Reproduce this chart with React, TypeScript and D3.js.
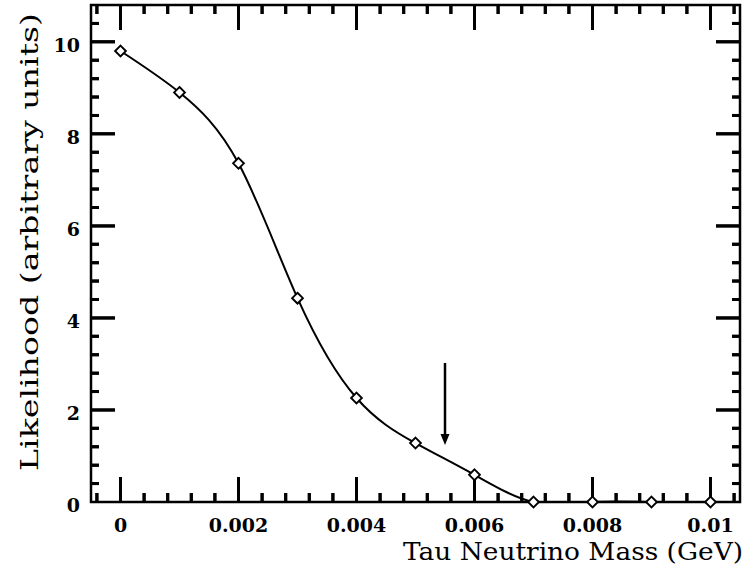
import React, { useEffect, useRef } from 'react';
import * as d3 from 'd3';

// Data
const massValues = [0, 0.001, 0.002, 0.003, 0.004, 0.005, 0.006, 0.007, 0.008, 0.009, 0.01];
const likelihoodValues = [9.8, 8.9, 7.36, 4.43, 2.26, 1.28, 0.59, 0, 0, 0, 0];
const xTickValues = [0, 0.002, 0.004, 0.006, 0.008, 0.01];
const xTickLabels = ['0', '0.002', '0.004', '0.006', '0.008', '0.01'];
const yTickValues = [0, 2, 4, 6, 8, 10];
const yTickLabels = ['0', '2', '4', '6', '8', '10'];
const arrowMass = 0.0055;
const arrowFrom = 3.02;
const arrowTo = 1.24;
const xTitle = 'Tau Neutrino Mass (GeV)';
const yTitle = 'Likelihood (arbitrary units)';

const W = 751;
const H = 574;
const L = 91, R = 740, T = 5, B = 502;

export default function App() {
  const tickRef = useRef(null);
  const x = d3.scaleLinear().domain([-0.0005, 0.0105]).range([L, R]);
  const y = d3.scaleLinear().domain([0, 10.8]).range([B, T]);

  const xMinor = d3.range(-1, 27).map((i) => i * 0.0004);
  const yMinor = d3.range(1, 27).map((i) => i * 0.4);

  useEffect(() => {
    const g = d3.select(tickRef.current);
    g.selectAll('*').remove();
    const bottom = d3.axisBottom(x).tickValues(xMinor).tickFormat(() => '');
    bottom.tickSizeInner(0).tickSizeOuter(0);
    const mk = (sel, vals, isX, side) => {
      sel
        .selectAll('line.t' + side)
        .data(vals)
        .enter()
        .append('line')
        .attr('stroke', 'black')
        .attr('stroke-width', 3)
        .attr('x1', (d, i) => (isX ? x(d) : side === 'l' ? L : R))
        .attr('x2', (d, i) => {
          const maj = Math.round(d / (isX ? 0.0004 : 0.4)) % 5 === 0;
          const len = maj ? (isX ? 25 : 24) : isX ? 9 : 8;
          return isX ? x(d) : side === 'l' ? L + len : R - len;
        })
        .attr('y1', (d) => (isX ? (side === 'b' ? B : T) : y(d)))
        .attr('y2', (d) => {
          const maj = Math.round(d / (isX ? 0.0004 : 0.4)) % 5 === 0;
          const len = maj ? (isX ? 25 : 24) : isX ? 9 : 8;
          return isX ? (side === 'b' ? B - len : T + len) : y(d);
        });
    };
    mk(g, xMinor, true, 'b');
    mk(g, xMinor, true, 't');
    mk(g, yMinor, false, 'l');
    mk(g, yMinor, false, 'r');
  }, []);

  const pts = massValues.map((m, i) => [m, likelihoodValues[i]]);
  const line = d3
    .line()
    .x((d) => x(d[0]))
    .y((d) => y(d[1]))
    .curve(d3.curveNatural);

  const tickFont = { fontFamily: 'DejaVu Serif', fontWeight: 700, fontSize: 19 };
  const titleFont = { fontFamily: 'DejaVu Serif', fontWeight: 400, fontSize: 24 };

  const ax = x(arrowMass);
  const ay0 = y(arrowFrom);
  const ay1 = y(arrowTo);

  const curveD = line(pts) || '';

  let tickPath = '';
  xMinor.forEach((v, i) => {
    const px = x(v);
    const len = (i - 1) % 5 === 0 ? 25 : 9;
    tickPath += `M${px},${B}V${B - len}M${px},${T}V${T + len}`;
  });
  yMinor.forEach((v, i) => {
    const py = y(v);
    const len = (i + 1) % 5 === 0 ? 24 : 8;
    tickPath += `M${L},${py}H${L + len}M${R},${py}H${R - len}`;
  });

  return (
    <svg width={W} height={H} style={{ position: 'absolute', left: 0, top: 0 }}>
      <path d={curveD} fill="none" stroke="#000" strokeWidth={2} />
      <rect x={L - 2} y={B + 1} width={R - L + 4} height={12} fill="#fff" />

      <rect x={L} y={T} width={R - L} height={B - T} fill="none" stroke="#000" strokeWidth={2.5} />

      <path d={tickPath} fill="none" stroke="#000" strokeWidth={3} />
      <g ref={tickRef} />

      {pts.map((d, i) => {
        const cx = x(d[0]);
        const cy = y(d[1]);
        const r = 5.4;
        return (
          <path
            key={'p' + i}
            d={`M${cx},${cy - r}L${cx + r},${cy}L${cx},${cy + r}L${cx - r},${cy}Z`}
            fill="#fff"
            stroke="#000"
            strokeWidth={1.9}
          />
        );
      })}

      <line x1={ax} x2={ax} y1={ay0} y2={ay1 - 8} stroke="#000" strokeWidth={2.5} />
      <path d={`M${ax - 4.5},${ay1 - 11}L${ax + 4.5},${ay1 - 11}L${ax},${ay1}Z`} fill="#000" />

      {xTickValues.map((v, i) => (
        <text key={'xl' + i} x={x(v)} y={532} textAnchor="middle" {...tickFont}>
          {xTickLabels[i]}
        </text>
      ))}
      {yTickValues.map((v, i) => (
        <text key={'yl' + i} x={80} y={y(v) + 10} textAnchor="end" {...tickFont}>
          {yTickLabels[i]}
        </text>
      ))}

      <text x={403} y={560} textLength={340} lengthAdjust="spacingAndGlyphs" {...titleFont}>
        {xTitle}
      </text>
      <text
        transform="translate(38,471) rotate(-90)"
        textLength={458}
        lengthAdjust="spacingAndGlyphs"
        {...titleFont}
      >
        {yTitle}
      </text>
    </svg>
  );
}
